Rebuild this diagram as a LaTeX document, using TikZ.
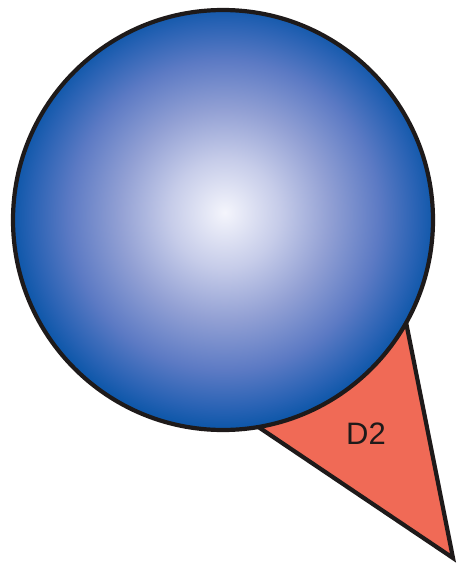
\documentclass[tikz,border=0pt]{standalone}
\usepackage{fontspec}
\setmainfont{Liberation Sans}
\definecolor{ballA}{RGB}{244,245,252}
\definecolor{ballB}{RGB}{198,204,233}
\definecolor{ballC}{RGB}{146,160,212}
\definecolor{ballD}{RGB}{92,122,196}
\definecolor{ballE}{RGB}{40,98,180}
\definecolor{ballF}{RGB}{16,88,170}
\definecolor{coneFill}{RGB}{240,106,86}
\definecolor{inkLine}{RGB}{30,26,26}
\pgfdeclareradialshading{ballshade}{\pgfpoint{0.2bp}{0.9bp}}{%
  color(0bp)=(ballA); color(6.5bp)=(ballB); color(12.5bp)=(ballC);
  color(18.5bp)=(ballD); color(23bp)=(ballE); color(25bp)=(ballF); color(50bp)=(ballF)}
\tikzset{
  outline/.style={draw=inkLine, line width=4.2pt},
  cone/.style={outline, fill=coneFill, line join=miter},
  ball/.style={circle, outline, shading=ballshade, minimum size=420pt, inner sep=0pt},
  lbl/.style={font=\fontsize{31}{31}\selectfont, text=inkLine}
}
\begin{document}
\begin{tikzpicture}[x=1pt,y=-1pt]
\useasboundingbox (0,0) rectangle (457,568);
\coordinate (tipTop) at (404,312);
\coordinate (tipBot) at (453,558);
\coordinate (tipLeft) at (248,420);
\filldraw[cone] (tipTop) -- (tipBot) -- (tipLeft) -- cycle;
\node[ball] (sphere) at (223,220) {};
\node[lbl] (d2) at (366,434) {D2};
\end{tikzpicture}
\end{document}
